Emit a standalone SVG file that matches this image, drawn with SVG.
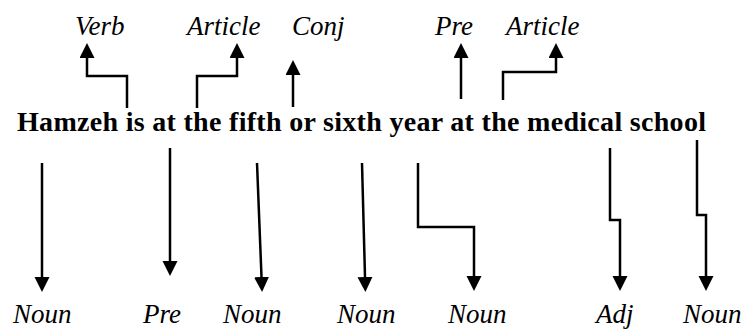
<svg xmlns="http://www.w3.org/2000/svg" width="746" height="329" viewBox="0 0 746 329">
<defs>
<marker id="ah" markerUnits="userSpaceOnUse" markerWidth="16" markerHeight="16" refX="0" refY="7.5" orient="auto">
<path d="M0,0 L15,7.5 L0,15 Z" fill="#000"/>
</marker>
</defs>
<rect width="746" height="329" fill="#fff"/>
<g id="sentence"><text x="17" y="131" font-family="Liberation Serif" font-weight="bold" font-size="28" textLength="689" lengthAdjust="spacing">Hamzeh is at the fifth or sixth year at the medical school</text></g>
<g id="t-verb"><text x="75" y="35" font-family="Liberation Serif" font-style="italic" font-size="27">Verb</text></g>
<g id="t-article1"><text x="187" y="35" font-family="Liberation Serif" font-style="italic" font-size="27">Article</text></g>
<g id="t-conj"><text x="292" y="35" font-family="Liberation Serif" font-style="italic" font-size="27">Conj</text></g>
<g id="t-pre"><text x="435" y="35" font-family="Liberation Serif" font-style="italic" font-size="27">Pre</text></g>
<g id="t-article2"><text x="506" y="35" font-family="Liberation Serif" font-style="italic" font-size="27">Article</text></g>
<g id="b-noun1"><text x="13" y="323" font-family="Liberation Serif" font-style="italic" font-size="27">Noun</text></g>
<g id="b-pre"><text x="143" y="323" font-family="Liberation Serif" font-style="italic" font-size="27">Pre</text></g>
<g id="b-noun3"><text x="223" y="323" font-family="Liberation Serif" font-style="italic" font-size="27">Noun</text></g>
<g id="b-noun4"><text x="337" y="323" font-family="Liberation Serif" font-style="italic" font-size="27">Noun</text></g>
<g id="b-noun5"><text x="448" y="323" font-family="Liberation Serif" font-style="italic" font-size="27">Noun</text></g>
<g id="b-adj"><text x="596" y="323" font-family="Liberation Serif" font-style="italic" font-size="27">Adj</text></g>
<g id="b-noun7"><text x="683" y="323" font-family="Liberation Serif" font-style="italic" font-size="27">Noun</text></g>
<g id="connectors" fill="none" stroke="#000" stroke-width="2.5" marker-end="url(#ah)">
<path d="M127,108 V76 H87 V58"/>
<path d="M197,108 V76 H237 V58"/>
<path d="M293,107 V75"/>
<path d="M461,99 V58"/>
<path d="M503,100 V72 H556 V58"/>
<path d="M42,163 V277"/>
<path d="M170,148 V261"/>
<path d="M257,163 L261.5,277"/>
<path d="M362,163 L365,277"/>
<path d="M418,163 V227 H474 V276"/>
<path d="M610,148 V220 H620 V276"/>
<path d="M697,140 V215 H706 V276"/>
</g>
</svg>
